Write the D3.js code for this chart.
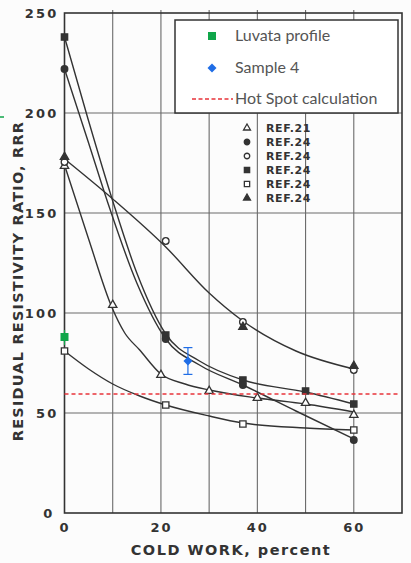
<!DOCTYPE html>
<html>
<head>
<meta charset="utf-8">
<script src="https://d3js.org/d3.v7.min.js"></script>
<style>
  body { margin: 0; background: #fcfcfc; }
  svg { display: block; }
  .tick text { font-family: "DejaVu Sans", sans-serif; font-weight: bold; fill: #333; }
</style>
</head>
<body>
<div id="chart"></div>
<script>
// ---- data ----
var yTicks = [0, 50, 100, 150, 200, 250]
var xTicks = [0, 20, 40, 60]
var xGrid = [10, 20, 30, 40, 50, 60]
var yGrid = [50, 100, 150, 200]

var refLabels = ['REF.21', 'REF.24', 'REF.24', 'REF.24', 'REF.24', 'REF.24']
var refSymbols = ['triangleOpen', 'circleFilled', 'circleOpen', 'squareFilled', 'squareOpen', 'triangleFilled']

// measured points for each reference series
var ref21X = [0, 10, 20, 30, 40, 50, 60]
var ref21Y = [173.5, 104, 69, 61, 57.5, 55, 49]
var circFilledX = [0, 21, 37, 60]
var circFilledY = [222, 87, 64, 36.5]
var circOpenX = [0, 21, 37, 60]
var circOpenY = [175.5, 136, 95.5, 71.5]
var sqFilledX = [0, 21, 37, 50, 60]
var sqFilledY = [238, 89, 66.5, 61, 54.5]
var sqOpenX = [0, 21, 37, 60]
var sqOpenY = [81, 54, 44.5, 41.5]
var triFilledX = [0, 37, 60]
var triFilledY = [178, 93, 73.5]

// hand-drawn fit curves as they appear in the scan
var fitRef21X = [0, 5, 9.8, 12.5, 15.6, 20, 25, 30, 40, 50, 60]
var fitRef21Y = [174, 137, 103, 90, 81.5, 69.5, 64.5, 61.5, 57.5, 54.5, 50.5]
var fitSqX = [0, 5, 10, 15, 21, 28, 37, 50, 60]
var fitSqY = [238, 196, 156, 120, 89.5, 76, 66.5, 60.5, 54.5]
var fitCircX = [0, 5, 9, 15, 21, 28, 37, 48, 60]
var fitCircY = [222, 185, 155, 115, 87, 74, 64, 51, 37]
var fitOpenX = [0, 10, 21, 30, 37, 48, 60]
var fitOpenY = [177, 157, 133, 110, 96, 81, 72]
var fitSqOpenX = [0, 5, 10, 15.6, 21, 30, 37, 50, 60]
var fitSqOpenY = [81, 72, 64.5, 58.5, 54, 48.5, 45, 42.5, 41.5]

// overlay added on top of the scan
var luvataX = 0, luvataY = 88, luvataErr = [84, 91.5]
var sampleX = 25.6, sampleY = 76, sampleErr = [69.3, 82.7]
var hotSpotY = 59.5
var overlayLabels = ['Luvata profile', 'Sample 4', 'Hot Spot calculation']

var W = 411, H = 563
var svg = d3.select('#chart').append('svg').attr('width', W).attr('height', H)

var x = d3.scaleLinear().domain([0, 70]).range([64.5, 402])
var y = d3.scaleLinear().domain([0, 250]).range([513, 13])

var ink = '#333'

// grid
svg.append('g').selectAll('line.vg').data(xGrid).enter().append('line')
  .attr('x1', function(d) { return x(d) }).attr('x2', function(d) { return x(d) })
  .attr('y1', y(250) - 3).attr('y2', y(0))
  .attr('stroke', '#6a6a6a').attr('stroke-width', 1.1)
svg.append('g').selectAll('line.hg').data(yGrid).enter().append('line')
  .attr('x1', x(0)).attr('x2', x(70))
  .attr('y1', function(d) { return y(d) }).attr('y2', function(d) { return y(d) })
  .attr('stroke', '#6a6a6a').attr('stroke-width', 1.1)

// frame
svg.append('rect')
  .attr('x', x(0)).attr('y', y(250))
  .attr('width', x(70) - x(0)).attr('height', y(0) - y(250))
  .attr('fill', 'none').attr('stroke', ink).attr('stroke-width', 1.6)

// axes (labels only)
var yAxis = svg.append('g').attr('transform', 'translate(' + (x(0) - 6) + ',0)')
  .call(d3.axisLeft(y).tickValues(yTicks).tickSize(0).tickPadding(0))
yAxis.select('.domain').remove()
yAxis.selectAll('text').style('font-size', '13px').attr('letter-spacing', '2.2px')
yAxis.selectAll('.tick').filter(function(d) { return d === 0 }).select('text').attr('dx', -4)

var xAxis = svg.append('g').attr('transform', 'translate(0,' + (y(0) + 6) + ')')
  .call(d3.axisBottom(x).tickValues(xTicks).tickSize(0).tickPadding(4))
xAxis.select('.domain').remove()
xAxis.selectAll('text').style('font-size', '13px').attr('letter-spacing', '2px')

// axis titles
svg.append('text')
  .attr('x', 231).attr('y', 555)
  .attr('text-anchor', 'middle')
  .style('font-family', '"DejaVu Sans", sans-serif').style('font-weight', 'bold')
  .style('font-size', '14.5px').attr('letter-spacing', '1.5px').attr('fill', ink)
  .text('COLD WORK, percent')
svg.append('text')
  .attr('transform', 'translate(23,281) rotate(-90)')
  .attr('text-anchor', 'middle')
  .style('font-family', '"DejaVu Sans", sans-serif').style('font-weight', 'bold')
  .style('font-size', '14.5px').attr('letter-spacing', '1.2px').attr('fill', ink)
  .text('RESIDUAL RESISTIVITY RATIO, RRR')

// fit curves
var line = d3.line()
  .x(function(d) { return x(d[0]) })
  .y(function(d) { return y(d[1]) })
  .curve(d3.curveMonotoneX)
var fits = [[fitRef21X, fitRef21Y], [fitSqX, fitSqY], [fitCircX, fitCircY], [fitOpenX, fitOpenY], [fitSqOpenX, fitSqOpenY]]
fits.forEach(function(f) {
  svg.append('path')
    .datum(d3.zip(f[0], f[1]))
    .attr('d', line)
    .attr('fill', 'none').attr('stroke', ink).attr('stroke-width', 1.4)
})

// markers
function drawSymbol(g, kind, cx, cy, scale) {
  scale = scale || 1
  var shape = kind.indexOf('triangle') === 0 ? d3.symbolTriangle
    : kind.indexOf('circle') === 0 ? d3.symbolCircle : d3.symbolSquare
  var filled = kind.indexOf('Filled') > 0
  var size = (shape === d3.symbolSquare ? 40 : shape === d3.symbolCircle ? 34 : 30) * scale
  g.append('path')
    .attr('d', d3.symbol().type(shape).size(size)())
    .attr('transform', 'translate(' + cx + ',' + cy + ')')
    .attr('fill', filled ? ink : '#fff')
    .attr('stroke', ink).attr('stroke-width', 1.3)
}
var seriesPts = [
  ['squareOpen', sqOpenX, sqOpenY],
  ['triangleOpen', ref21X, ref21Y],
  ['circleOpen', circOpenX, circOpenY],
  ['triangleFilled', triFilledX, triFilledY],
  ['squareFilled', sqFilledX, sqFilledY],
  ['circleFilled', circFilledX, circFilledY]
]
var mk = svg.append('g')
seriesPts.forEach(function(s) {
  s[1].forEach(function(xv, i) {
    drawSymbol(mk, s[0], x(xv), y(s[2][i]))
  })
})

// REF legend inside plot
var refG = svg.append('g')
refLabels.forEach(function(lab, i) {
  var ry = 128 + i * 14
  drawSymbol(refG, refSymbols[i], 247, ry, 0.7)
  refG.append('text')
    .attr('x', 266).attr('y', ry + 4)
    .style('font-family', '"DejaVu Sans", sans-serif').style('font-weight', 'bold')
    .style('font-size', '11px').attr('letter-spacing', '0.6px').attr('fill', ink)
    .text(lab)
})

// hot spot line
var red = '#e8333a'
svg.append('line')
  .attr('x1', x(0)).attr('x2', x(70) - 2)
  .attr('y1', y(hotSpotY)).attr('y2', y(hotSpotY))
  .attr('stroke', red).attr('stroke-width', 1.5).attr('stroke-dasharray', '4,3')

// Luvata profile
var green = '#10a64a'
svg.append('line')
  .attr('x1', x(luvataX)).attr('x2', x(luvataX))
  .attr('y1', y(luvataErr[0])).attr('y2', y(luvataErr[1]))
  .attr('stroke', green).attr('stroke-width', 1.2)
svg.append('rect')
  .attr('x', x(luvataX) - 4).attr('y', y(luvataY) - 4)
  .attr('width', 8).attr('height', 8).attr('fill', green)

// diamond = square turned 45 degrees
function diamond(g, cx, cy, half, colour) {
  g.append('path')
    .attr('d', 'M0,' + (-half) + 'L' + half + ',0L0,' + half + 'L' + (-half) + ',0Z')
    .attr('transform', 'translate(' + cx + ',' + cy + ')')
    .attr('fill', colour)
}

// Sample 4 with error bar
var blue = '#1f6de6'
svg.append('line')
  .attr('x1', x(sampleX)).attr('x2', x(sampleX))
  .attr('y1', y(sampleErr[0])).attr('y2', y(sampleErr[1]))
  .attr('stroke', blue).attr('stroke-width', 1.2)
sampleErr.forEach(function(e) {
  svg.append('line')
    .attr('x1', x(sampleX) - 4.5).attr('x2', x(sampleX) + 4.5)
    .attr('y1', y(e)).attr('y2', y(e))
    .attr('stroke', blue).attr('stroke-width', 1.2)
})
diamond(svg, x(sampleX), y(sampleY), 4.5, blue)

// overlay legend
var lg = svg.append('g')
lg.append('rect').attr('x', 175).attr('y', 20).attr('width', 223).attr('height', 93)
  .attr('fill', '#fff').attr('stroke', ink).attr('stroke-width', 1.5)
lg.append('rect').attr('x', 208).attr('y', 32).attr('width', 8).attr('height', 8).attr('fill', green)
diamond(lg, 212, 68, 4.5, blue)
lg.append('line').attr('x1', 192).attr('x2', 233).attr('y1', 99).attr('y2', 99)
  .attr('stroke', red).attr('stroke-width', 1.5).attr('stroke-dasharray', '4,2.5')
var lgY = [41, 73, 104]
overlayLabels.forEach(function(t, i) {
  lg.append('text')
    .attr('x', 235).attr('y', lgY[i])
    .style('font-family', 'Lato, sans-serif').style('font-size', '16px')
    .attr('fill', '#555')
    .text(t)
})

// small green mark at the left edge of the scan
svg.append('line').attr('x1', 0).attr('x2', 4).attr('y1', 117).attr('y2', 117)
  .attr('stroke', green).attr('stroke-width', 1.5)
</script>
</body>
</html>
